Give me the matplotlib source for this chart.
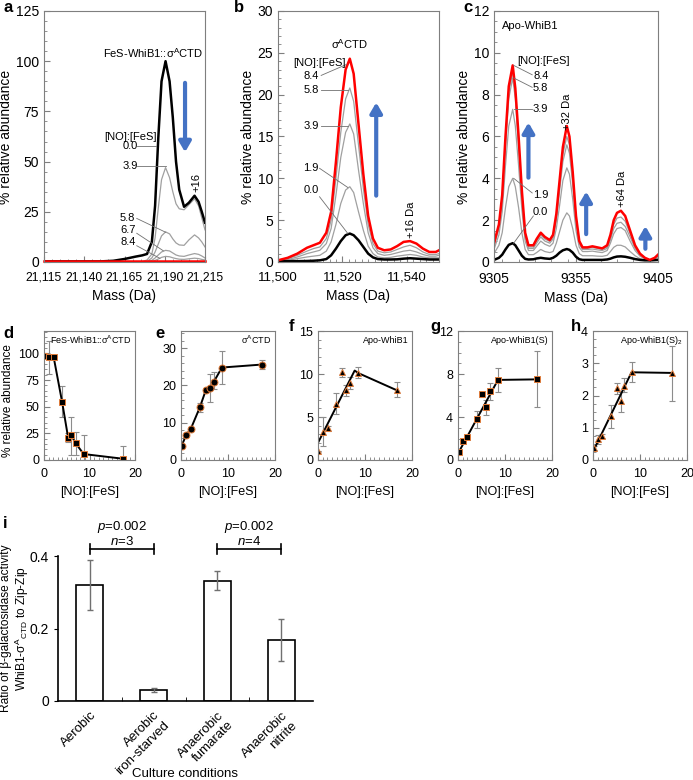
"""WhiB1 nitrosylation: MS spectra, titration curves and two-hybrid ratios."""

import matplotlib

matplotlib.use("Agg")
import matplotlib.pyplot as plt
from matplotlib.ticker import MultipleLocator

plt.rcParams["font.family"] = ["Liberation Sans", "DejaVu Sans"]
plt.rcParams["mathtext.fontset"] = "custom"
plt.rcParams["mathtext.rm"] = "Liberation Sans"
plt.rcParams["mathtext.it"] = "Liberation Sans:italic"
plt.rcParams["font.size"] = 10

# ---- panel a: FeS-WhiB1::sigmaA-CTD spectra
a_mass = [21115, 21150, 21158, 21165, 21172, 21176, 21179, 21182, 21184, 21186, 21188,
          21190.5, 21193, 21195, 21197, 21199, 21202, 21205, 21208.5, 21211, 21213, 21215]
a_0_0 = [0.3, 0.3, 0.6, 1.5, 2.7, 3.3, 4, 10, 28, 62, 90, 100, 90, 72, 50, 36, 27.5, 29.5, 33, 30, 25, 19.6]
a_3_9 = [0, 0, 0, 0, 0, 0.2, 1, 4, 12, 27, 41, 47, 42, 35, 29, 26.5, 26, 28.5, 31.5, 28, 22, 16]
a_5_8 = [0, 0, 0, 0, 0, 0, 0.3, 2, 5, 9, 13, 15, 14, 11.5, 9.5, 8.5, 8.3, 11, 13.5, 12, 10, 7.5]
a_6_7 = [0, 0, 0, 0, 0, 0, 0.1, 0.8, 2, 3.5, 5, 5.8, 5.5, 4.5, 3.5, 3, 2.8, 3.5, 4.2, 3.8, 3, 2]
a_8_4 = [0, 0, 0, 0, 0, 0, 0, 0.3, 0.8, 1.5, 2.3, 2.8, 2.6, 2.1, 1.7, 1.4, 1.3, 1.6, 1.9, 1.7, 1.3, 1.0]
a_red = [0.5] * len(a_mass)

# ---- panel b: sigmaA-CTD spectra
b_mass = [11500, 11503, 11506, 11509, 11511, 11513, 11515, 11516.5, 11518, 11519.5, 11521, 11522.3,
          11523.5, 11525, 11526.5, 11528, 11529.5, 11531, 11533, 11535, 11537, 11539, 11541, 11543,
          11545, 11547, 11549, 11550]
b_8_4 = [0.2, 0.5, 1.0, 1.7, 2.0, 2.3, 3.5, 6, 12, 18.5, 23, 24.3, 22.5, 16.5, 10.5, 5.5, 2.8, 1.7,
         1.4, 1.5, 1.9, 2.4, 2.5, 2.2, 1.6, 1.2, 1.2, 1.4]
b_5_8 = [0.15, 0.4, 0.8, 1.3, 1.6, 1.8, 2.8, 5, 10, 15.5, 19.5, 20.8, 19.2, 14, 8.8, 4.5, 2.2, 1.3,
         1.1, 1.2, 1.5, 1.8, 2.0, 1.7, 1.2, 0.9, 0.9, 1.0]
b_3_9 = [0.1, 0.3, 0.6, 1.0, 1.2, 1.4, 2.2, 4, 8, 12.5, 15.5, 16.5, 15.3, 11, 7, 3.5, 1.7, 1.0,
         0.8, 0.9, 1.1, 1.3, 1.4, 1.2, 0.9, 0.7, 0.7, 0.8]
b_1_9 = [0.1, 0.2, 0.4, 0.6, 0.7, 0.8, 1.3, 2.4, 4.5, 7, 8.6, 9, 8.3, 6, 3.8, 1.9, 1.0, 0.6,
         0.5, 0.55, 0.7, 0.8, 0.9, 0.8, 0.6, 0.5, 0.5, 0.5]
b_0_0 = [0.1, 0.1, 0.1, 0.12, 0.15, 0.2, 0.35, 0.8, 1.6, 2.5, 3.2, 3.4, 3.2, 2.6, 1.8, 1.0, 0.55, 0.35,
         0.3, 0.3, 0.32, 0.4, 0.45, 0.4, 0.35, 0.3, 0.3, 0.3]

# ---- panel c: apo-WhiB1 spectra
c_mass = [9305, 9308, 9310, 9312, 9314, 9316.4, 9318, 9320, 9322, 9324, 9326, 9329, 9331, 9333.5,
          9336, 9339, 9341, 9343, 9345, 9347, 9349.4, 9351, 9353, 9355, 9357, 9359, 9362, 9365,
          9368, 9371, 9374, 9376, 9378, 9380, 9382.4, 9385, 9388, 9391, 9394, 9397, 9400, 9403, 9405]
c_8_4 = [0.9, 1.8, 3.2, 6, 8.4, 9.4, 8.3, 6, 3.4, 1.4, 0.8, 0.8, 1.1, 1.4, 1.2, 1.05, 1.3, 2.3, 3.9,
         5.5, 6.5, 6.0, 4.3, 2.2, 1.0, 0.7, 0.7, 0.75, 0.7, 0.65, 0.8, 1.3, 2.0, 2.35, 2.45, 2.2, 1.5,
         0.8, 0.4, 0.2, 0.1, 0.2, 0.35]
c_6_7 = [0.85, 1.7, 3.1, 5.8, 8.1, 9.1, 8.1, 5.8, 3.2, 1.3, 0.72, 0.72, 1.0, 1.3, 1.1, 0.98, 1.2, 2.15,
         3.65, 5.15, 6.0, 5.6, 4.0, 2.05, 0.92, 0.65, 0.65, 0.7, 0.65, 0.6, 0.72, 1.18, 1.8, 2.1, 2.15,
         1.95, 1.35, 0.72, 0.36, 0.19, 0.1, 0.17, 0.32]
c_5_8 = [0.75, 1.6, 2.9, 5.5, 7.8, 8.8, 7.8, 5.5, 3.0, 1.2, 0.65, 0.65, 0.9, 1.2, 1.0, 0.9, 1.1, 2.0,
         3.4, 4.8, 5.6, 5.2, 3.7, 1.9, 0.85, 0.6, 0.6, 0.62, 0.58, 0.55, 0.65, 1.05, 1.6, 1.85, 1.9,
         1.7, 1.2, 0.65, 0.33, 0.18, 0.1, 0.15, 0.3]
c_3_9 = [0.6, 1.3, 2.4, 4.6, 6.5, 7.3, 6.5, 4.6, 2.5, 1.0, 0.55, 0.55, 0.75, 1.0, 0.85, 0.75, 0.9, 1.6,
         2.7, 3.9, 4.5, 4.2, 3.0, 1.5, 0.7, 0.5, 0.5, 0.52, 0.48, 0.45, 0.55, 0.9, 1.35, 1.6, 1.65,
         1.5, 1.0, 0.55, 0.28, 0.15, 0.08, 0.12, 0.25]
c_1_9 = [0.4, 0.8, 1.4, 2.6, 3.6, 4.0, 3.6, 2.6, 1.4, 0.6, 0.35, 0.35, 0.45, 0.6, 0.5, 0.45, 0.5, 0.9,
         1.45, 2.0, 2.35, 2.2, 1.6, 0.8, 0.4, 0.3, 0.3, 0.3, 0.28, 0.27, 0.32, 0.5, 0.7, 0.8, 0.8,
         0.72, 0.5, 0.3, 0.16, 0.1, 0.06, 0.08, 0.15]
c_0_0 = [0.1, 0.2, 0.35, 0.6, 0.82, 0.9, 0.8, 0.55, 0.3, 0.15, 0.12, 0.13, 0.17, 0.2, 0.17, 0.15, 0.2,
         0.3, 0.45, 0.56, 0.62, 0.58, 0.45, 0.25, 0.13, 0.1, 0.1, 0.1, 0.1, 0.1, 0.12, 0.16, 0.22, 0.26,
         0.27, 0.25, 0.2, 0.14, 0.1, 0.08, 0.08, 0.09, 0.1]

# ---- panels d-h: titrations, (ratio, mean, err_low, err_high)
d_ratio = [0, 1.1, 2.1, 4.0, 5.3, 6.0, 7.0, 8.7, 17.3]
d_mean = [98, 97, 97, 54, 21, 23, 15.5, 5.6, 1.2]
d_lo = [96, 81, 96, 40, 17, 5, 5, 0, 0]
d_hi = [100, 112, 98, 69, 25, 40, 26, 23.5, 13]

e_ratio = [0.15, 1.1, 2.1, 4.0, 5.3, 6.2, 7.0, 8.7, 17.2]
e_mean = [3.85, 6.7, 8.4, 14.1, 18.8, 19.3, 21.0, 24.8, 25.6]
e_lo = [3.6, 6.2, 7.9, 12.9, 18.3, 15.5, 19.0, 20.5, 24.5]
e_hi = [4.1, 7.2, 8.9, 15.3, 19.3, 23.0, 23.5, 29.2, 26.8]

f_ratio = [0.1, 1.1, 2.1, 3.9, 5.2, 5.9, 6.8, 8.6, 16.8]
f_mean = [1.0, 3.3, 3.7, 6.5, 10.2, 8.1, 8.9, 10.1, 8.1]
f_lo = [0.9, 1.6, 3.4, 5.3, 9.7, 7.5, 8.2, 9.5, 7.3]
f_hi = [1.1, 5.0, 4.0, 7.8, 10.7, 8.7, 9.6, 10.8, 9.1]
f_fit_x = [0, 7.8, 8.6, 16.8]
f_fit_y = [2.0, 10.4, 10.1, 8.1]

g_ratio = [0.15, 1.1, 2.0, 4.1, 5.1, 5.9, 6.8, 8.5, 16.8]
g_mean = [0.77, 1.8, 2.15, 3.8, 6.1, 4.9, 6.4, 7.45, 7.5]
g_lo = [0.7, 1.6, 2.0, 3.0, 5.9, 4.2, 5.6, 6.3, 4.9]
g_hi = [0.85, 2.0, 2.3, 4.6, 6.3, 5.6, 7.2, 8.6, 10.1]
g_fit_x = [0, 8.5, 16.8]
g_fit_y = [0.6, 7.45, 7.5]

h_ratio = [0.15, 1.1, 1.9, 3.9, 5.1, 5.9, 6.7, 8.4, 16.9]
h_mean = [0.36, 0.64, 0.75, 1.35, 2.22, 1.82, 2.28, 2.72, 2.69]
h_lo = [0.3, 0.5, 0.68, 1.0, 2.05, 1.5, 2.1, 2.42, 1.83]
h_hi = [0.42, 0.78, 0.82, 1.7, 2.4, 2.1, 2.55, 3.05, 3.55]
h_fit_x = [0, 8.2, 16.9]
h_fit_y = [0.26, 2.72, 2.7]

# ---- panel i: bacterial two-hybrid ratios
conditions = ["Aerobic", "Aerobic\niron-starved", "Anaerobic\nfumarate", "Anaerobic\nnitrite"]
ratio_mean = [0.32, 0.031, 0.332, 0.167]
ratio_err = [0.068, 0.005, 0.027, 0.058]

GRAY = "#8c8c8c"
BLUE = "#4472c4"
ORANGE = "#e07b39"
W, H = 693, 780


def box(left, top, right, bottom):
    return [left / W, 1 - bottom / H, (right - left) / W, (bottom - top) / H]


def style(ax, labelsize=10, xpad=7):
    for s in ax.spines.values():
        s.set_color("#7f7f7f")
        s.set_linewidth(0.8)
    ax.tick_params(direction="in", which="both", color="#7f7f7f", labelsize=labelsize)
    ax.tick_params(which="major", length=4)
    ax.tick_params(which="minor", length=2)
    ax.tick_params(axis="x", pad=xpad)


def leader(ax, label, xy_text, xy_from, xy_to, ha="center"):
    ax.text(*xy_text, label, fontsize=8, ha=ha, va="center")
    ax.plot([xy_from[0], xy_to[0]], [xy_from[1], xy_to[1]], color="#707070", lw=0.6)


def blue_arrow(ax, x, y0, y1):
    ax.annotate("", xy=(x, y1), xytext=(x, y0),
                arrowprops=dict(arrowstyle="-|>,head_width=0.35,head_length=0.6",
                                lw=3, color=BLUE, mutation_scale=10))


fig = plt.figure(figsize=(W / 100, H / 100), dpi=100)

# a
ax = fig.add_axes(box(44, 11, 205, 262))
for vals in (a_8_4, a_6_7, a_5_8, a_3_9):
    ax.plot(a_mass, vals, color="#a0a0a0", lw=0.9)
ax.plot(a_mass, a_0_0, color="black", lw=1.8)
ax.plot(a_mass, a_red, color="red", lw=1.8, clip_on=False)
ax.set_xlim(21115, 21215)
ax.set_ylim(0, 125)
ax.set_xticks([21115, 21140, 21165, 21190, 21215])
ax.set_xticklabels(["21,115", "21,140", "21,165", "21,190", "21,215"])
ax.yaxis.set_major_locator(MultipleLocator(25))
ax.yaxis.set_minor_locator(MultipleLocator(5))
ax.xaxis.set_minor_locator(MultipleLocator(5))
style(ax)
ax.tick_params(axis="x", labelsize=8.8)
ax.set_xlabel("Mass (Da)", fontsize=10)
ax.set_ylabel("% relative abundance", fontsize=10, labelpad=2)
ax.text(21182.5, 104, "FeS-WhiB1::σ$^{\\rm A}$CTD", fontsize=8, ha="center", va="center")
ax.text(21185, 62.5, "[NO]:[FeS]", fontsize=8, ha="right", va="center")
leader(ax, "0.0", (21168.4, 57.8), (21172.6, 57.8), (21184.4, 57.8))
leader(ax, "3.9", (21168.4, 48), (21172.6, 48), (21190.6, 48))
leader(ax, "5.8", (21167, 21.7), (21172.6, 21.7), (21190.6, 14.8))
leader(ax, "6.7", (21167, 15.9), (21172.6, 14.3), (21189.1, 5.6))
leader(ax, "8.4", (21167, 9.8), (21172.6, 8.1), (21187, 1.8))
ax.text(21209.4, 39.5, "+16", fontsize=8, rotation=90, ha="center", va="center")
blue_arrow(ax, 21202.6, 90.6, 53.3)
fig.text(3 / W, 1 - 7 / H, "a", fontsize=12, fontweight="bold", va="center")

# b
ax = fig.add_axes(box(278, 11, 439, 262))
for vals in (b_5_8, b_3_9, b_1_9):
    ax.plot(b_mass, vals, color="#a0a0a0", lw=0.9)
ax.plot(b_mass, b_0_0, color="black", lw=1.8)
ax.plot(b_mass, b_8_4, color="red", lw=1.8)
ax.set_xlim(11500, 11550)
ax.set_ylim(0, 30)
ax.set_xticks([11500, 11520, 11540])
ax.set_xticklabels(["11,500", "11,520", "11,540"])
ax.yaxis.set_major_locator(MultipleLocator(5))
ax.yaxis.set_minor_locator(MultipleLocator(1))
ax.xaxis.set_minor_locator(MultipleLocator(2))
style(ax)
ax.tick_params(axis="x", labelsize=9.5)
ax.set_xlabel("Mass (Da)", fontsize=10)
ax.set_ylabel("% relative abundance", fontsize=10, labelpad=2)
ax.text(11522.2, 26.1, "σ$^{\\rm A}$CTD", fontsize=8, ha="center", va="center")
ax.text(11512.9, 23.8, "[NO]:[FeS]", fontsize=8, ha="center", va="center")
leader(ax, "8.4", (11510.3, 22.2), (11513.4, 22.3), (11521.2, 23.6))
leader(ax, "5.8", (11510.3, 20.6), (11513.4, 20.6), (11521.7, 20.6))
leader(ax, "3.9", (11510.3, 16.3), (11513.4, 16.3), (11521.7, 16.3))
leader(ax, "1.9", (11510.3, 11.2), (11512.9, 11.2), (11521.7, 8.9))
leader(ax, "0.0", (11510.3, 8.6), (11512.9, 7.8), (11521.7, 3.4))
ax.text(11541.3, 5.05, "+16 Da", fontsize=8, rotation=90, ha="center", va="center")
blue_arrow(ax, 11530.5, 7.6, 19.4)
fig.text(234 / W, 1 - 8 / H, "b", fontsize=12, fontweight="bold", va="center")

# c
ax = fig.add_axes(box(494, 11, 658, 262))
for vals in (c_6_7, c_5_8, c_3_9, c_1_9):
    ax.plot(c_mass, vals, color="#a0a0a0", lw=0.9)
ax.plot(c_mass, c_0_0, color="black", lw=1.8)
ax.plot(c_mass, c_8_4, color="red", lw=1.8)
ax.set_xlim(9305, 9405)
ax.set_ylim(0, 12)
ax.set_xticks([9305, 9355, 9405])
ax.yaxis.set_major_locator(MultipleLocator(2))
ax.yaxis.set_minor_locator(MultipleLocator(0.5))
ax.xaxis.set_minor_locator(MultipleLocator(10))
style(ax)
ax.set_xlabel("Mass (Da)", fontsize=10)
ax.set_ylabel("% relative abundance", fontsize=10, labelpad=2)
ax.text(9327, 11.3, "Apo-WhiB1", fontsize=8, ha="center", va="center")
ax.text(9335, 9.6, "[NO]:[FeS]", fontsize=8, ha="center", va="center")
leader(ax, "8.4", (9333.5, 8.9), (9328.3, 8.95), (9317, 9.4))
leader(ax, "5.8", (9333.5, 8.3), (9328.3, 8.35), (9317, 8.8))
leader(ax, "3.9", (9333.5, 7.3), (9328, 7.3), (9317, 7.3))
leader(ax, "1.9", (9333.5, 3.2), (9328.3, 3.3), (9317, 4.0))
leader(ax, "0.0", (9333.5, 2.4), (9329, 2.2), (9317, 0.9))
ax.text(9349.4, 7.2, "+32 Da", fontsize=8, rotation=90, ha="center", va="center")
ax.text(9383, 3.5, "+64 Da", fontsize=8, rotation=90, ha="center", va="center")
blue_arrow(ax, 9326, 3.9, 6.8)
blue_arrow(ax, 9361.2, 1.2, 3.5)
blue_arrow(ax, 9397.3, 0.5, 1.85)
fig.text(463 / W, 1 - 8 / H, "c", fontsize=12, fontweight="bold", va="center")


def titration(rect, ratio, mean, lo, hi, marker, fit_x, fit_y, ymax, ymaj, ymin, title, letter, lpos):
    ax = fig.add_axes(rect)
    yerr = [[m - l for m, l in zip(mean, lo)], [h - m for m, h in zip(mean, hi)]]
    ax.errorbar(ratio, mean, yerr=yerr, fmt="none", ecolor=GRAY, elinewidth=0.8, capsize=2, capthick=0.8)
    if fit_x is None:
        ax.plot(ratio, mean, color="black", lw=1.4)
    else:
        ax.plot(fit_x, fit_y, color="black", lw=1.4)
    ax.plot(ratio, mean, ls="none", marker=marker, ms=5, mfc="black", mec=ORANGE, mew=0.7)
    ax.set_xlim(0, 20)
    ax.set_ylim(0, ymax)
    ax.set_xticks([0, 10, 20])
    ax.xaxis.set_minor_locator(MultipleLocator(1))
    ax.yaxis.set_major_locator(MultipleLocator(ymaj))
    ax.yaxis.set_minor_locator(MultipleLocator(ymin))
    style(ax, labelsize=9, xpad=6)
    ax.set_xlabel("[NO]:[FeS]", fontsize=9)
    ax.text(0.96, 0.93, title, transform=ax.transAxes, fontsize=6.5, ha="right", va="center")
    fig.text(lpos[0] / W, 1 - lpos[1] / H, letter, fontsize=12, fontweight="bold", va="center")
    return ax


ax = titration(box(44, 331, 135, 460), d_ratio, d_mean, d_lo, d_hi, "s", None, None,
               121, 25, 5, "FeS-WhiB1::σ$^{\\rm A}$CTD", "d", (3, 333))
ax.set_ylabel("% relative abundance", fontsize=8.5)
ax.yaxis.set_label_coords(-0.33, 0.46)
titration(box(181, 331, 275, 460), e_ratio, e_mean, e_lo, e_hi, "o", None, None,
          34.6, 10, 2, "σ$^{\\rm A}$CTD", "e", (155, 333))
titration(box(318, 331, 412, 460), f_ratio, f_mean, f_lo, f_hi, "^", f_fit_x, f_fit_y,
          15, 5, 1, "Apo-WhiB1", "f", (289, 326))
titration(box(458, 331, 552, 460), g_ratio, g_mean, g_lo, g_hi, "s", g_fit_x, g_fit_y,
          12, 4, 1, "Apo-WhiB1(S)", "g", (430, 326))
titration(box(593, 331, 687, 460), h_ratio, h_mean, h_lo, h_hi, "^", h_fit_x, h_fit_y,
          4, 1, 0.25, "Apo-WhiB1(S)$_2$", "h", (571, 326))

# i
ax = fig.add_axes(box(58, 556, 313, 701))
pos = [0.5, 1.5, 2.5, 3.5]
ax.bar(pos, ratio_mean, width=0.42, color="white", edgecolor="black", lw=1.2)
ax.errorbar(pos, ratio_mean, yerr=ratio_err, fmt="none", ecolor="#707070", elinewidth=1, capsize=2.5)
ax.set_xlim(0, 4)
ax.set_ylim(0, 0.4)
ax.set_yticks([0, 0.2, 0.4])
ax.set_yticklabels(["0", "0.2", "0.4"])
ax.set_xticks([1, 2, 3], minor=True)
ax.set_xticks(pos)
ax.set_xticklabels(conditions, rotation=45, ha="right", rotation_mode="anchor", fontsize=9.5)
ax.tick_params(axis="x", which="major", length=0, pad=6)
ax.tick_params(axis="x", which="minor", length=3, direction="in")
ax.tick_params(axis="y", length=3, direction="out", labelsize=10)
for s in ("top", "right"):
    ax.spines[s].set_visible(False)
for s in ("left", "bottom"):
    ax.spines[s].set_linewidth(1.2)
for x0, x1, n in ((0.5, 1.5, "3"), (2.5, 3.5, "4")):
    ax.plot([x0, x1], [0.419, 0.419], color="black", lw=1.2, clip_on=False)
    ax.plot([x0, x0], [0.405, 0.433], color="black", lw=1.2, clip_on=False)
    ax.plot([x1, x1], [0.405, 0.433], color="black", lw=1.2, clip_on=False)
    ax.text((x0 + x1) / 2, 0.48, "$p$=0.002", fontsize=9.5, ha="center", va="center")
    ax.text((x0 + x1) / 2, 0.44, f"$n$={n}", fontsize=9.5, ha="center", va="center")
ax.set_ylabel("Ratio of β-galactosidase activity\nWhiB1-σ$^{\\rm A}$$_{\\rm CTD}$ to Zip-Zip",
              fontsize=8.6, linespacing=1.1)
ax.yaxis.set_label_coords(-0.105, 0.5)
ax.set_xlabel("Culture conditions", fontsize=9.5)
ax.xaxis.set_label_coords(0.5, -0.46)
fig.text(3 / W, 1 - 523 / H, "i", fontsize=12, fontweight="bold", va="center")

fig.savefig("out.png", dpi=100)
